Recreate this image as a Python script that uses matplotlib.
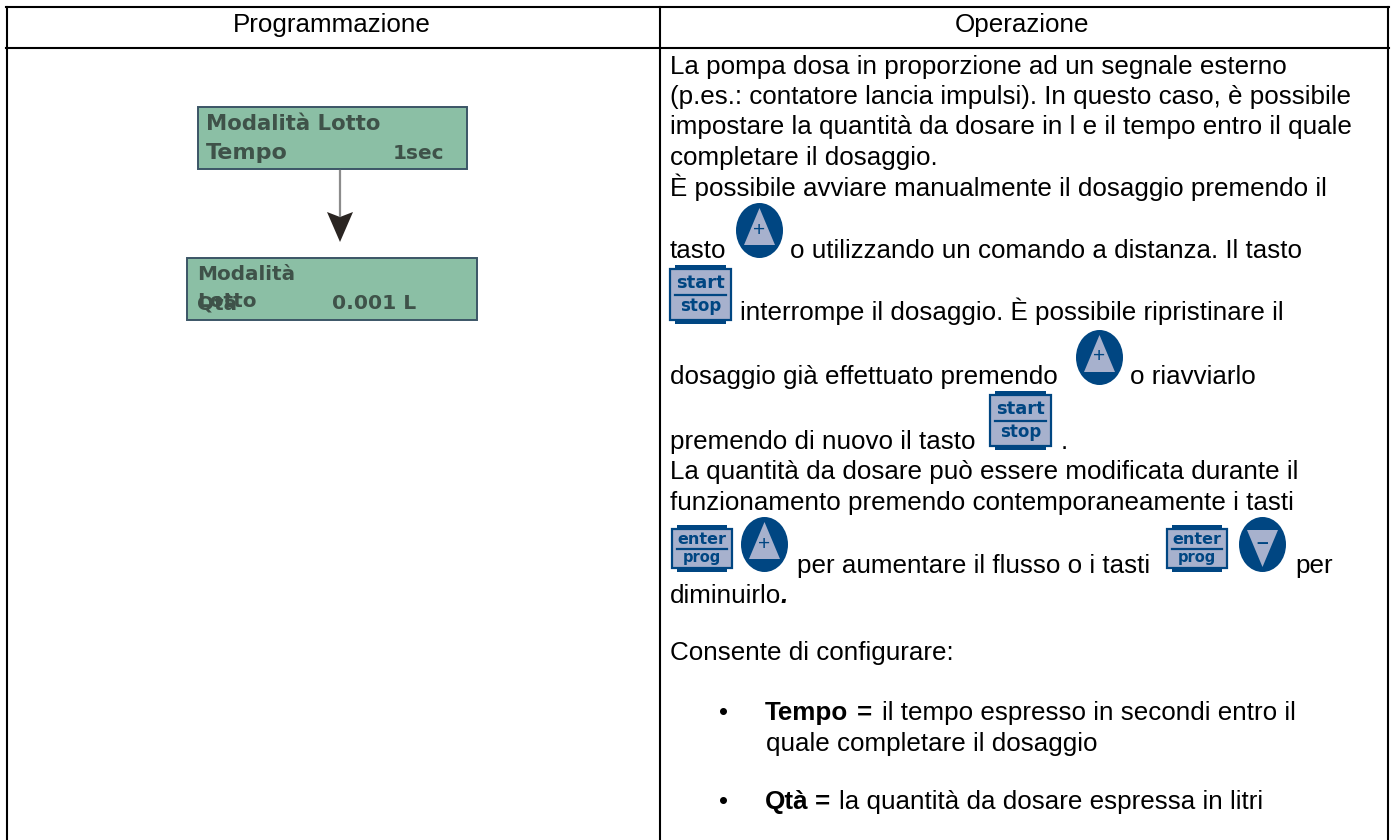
import matplotlib
matplotlib.use('Agg')
import matplotlib.pyplot as plt
from matplotlib.patches import Rectangle, Ellipse, Polygon

plt.rcParams['font.family'] = ['Liberation Sans', 'DejaVu Sans']

# table text
headers = ['Programmazione', 'Operazione']
text_lines = [
    'La pompa dosa in proporzione ad un segnale esterno',
    '(p.es.: contatore lancia impulsi). In questo caso, è possibile',
    'impostare la quantità da dosare in l e il tempo entro il quale',
    'completare il dosaggio.',
    'È possibile avviare manualmente il dosaggio premendo il',
    'tasto',
    'o utilizzando un comando a distanza. Il tasto',
    'interrompe il dosaggio. È possibile ripristinare il',
    'dosaggio già effettuato premendo',
    'o riavviarlo',
    'premendo di nuovo il tasto',
    '.',
    'La quantità da dosare può essere modificata durante il',
    'funzionamento premendo contemporaneamente i tasti',
    'per aumentare il flusso o i tasti',
    'per',
    'diminuirlo',
    'Consente di configurare:',
    'il tempo espresso in secondi entro il',
    'quale completare il dosaggio',
    'la quantità da dosare espressa in litri',
]
text_x = [670, 670, 670, 670, 670, 670, 790, 740, 670, 1130, 670, 1061, 670, 670, 797, 1295, 670, 670, 882, 766, 839]
text_y = [74, 104, 134, 165, 196, 258, 258, 320, 384, 384, 449, 449, 479, 510, 573, 573, 603, 660, 720, 751, 809]

NAVY = '#004682'
KEY = '#a7b1cd'
LCD = '#8bbfa5'
LCD_EDGE = '#3b5566'
LCD_TEXT = '#3f5249'
FS = 18.7

fig = plt.figure(figsize=(13.93, 8.40), dpi=100)
ax = fig.add_axes([0, 0, 1, 1])
ax.set_xlim(0, 1393)
ax.set_ylim(840, 0)
ax.axis('off')


def key(x, y, top, bottom, w=63, h=59, fs=13):
    # square key with the thicker top and bottom bars
    ax.add_patch(Rectangle((x + 6, y), w - 12, h, fc=NAVY, ec='none'))
    ax.add_patch(Rectangle((x + 1, y + 4), w - 2, h - 8, fc=KEY, ec=NAVY, lw=1.6))
    ax.plot([x + 6, x + w - 6], [y + h * 0.5, y + h * 0.5], color=NAVY, lw=1.6)
    ax.text(x + w / 2, y + h * 0.3, top, color=NAVY, fontsize=fs, fontweight='bold',
            family='DejaVu Sans', ha='center', va='center')
    ax.text(x + w / 2, y + h * 0.69, bottom, color=NAVY, fontsize=fs - 1, fontweight='bold',
            family='DejaVu Sans', ha='center', va='center')


def button(x, y, sign, up=True, w=47, h=55):
    ax.add_patch(Ellipse((x + w / 2, y + h / 2), w, h, fc=NAVY, ec='none'))
    if up:
        pts = [(x + w / 2, y + 5), (x + w - 8, y + h - 13), (x + 8, y + h - 13)]
        ax.text(x + w / 2, y + 27, sign, color=NAVY, fontsize=15, ha='center', va='center')
    else:
        pts = [(x + w / 2, y + h - 5), (x + w - 8, y + 13), (x + 8, y + 13)]
        ax.text(x + w / 2, y + 26, sign, color=NAVY, fontsize=15, fontweight='bold',
                ha='center', va='center')
    ax.add_patch(Polygon(pts, fc=KEY, ec='none', zorder=1.5))


def lcd_text(x, y, s, fs, ha='left'):
    ax.text(x, y, s, color=LCD_TEXT, fontsize=fs, family='DejaVu Sans',
            fontweight='bold', ha=ha, va='baseline')


# table grid, no line at the bottom
ax.plot([6, 1389], [7, 7], color='black', lw=1.5)
ax.plot([6, 1389], [48, 48], color='black', lw=1.5)
for gx in [7, 660, 1388]:
    ax.plot([gx, gx], [7, 840], color='black', lw=1.5)

# header row
ax.text(233, 32, headers[0], fontsize=FS, va='baseline')
ax.text(955, 32, headers[1], fontsize=FS, va='baseline')

# displays and arrow
ax.add_patch(Rectangle((198, 107), 269, 62, fc=LCD, ec=LCD_EDGE, lw=1.4))
lcd_text(206, 130, 'Modalità Lotto', 15.3)
lcd_text(206, 159, 'Tempo', 16)
lcd_text(444, 159, '1sec', 14.4, ha='right')
ax.plot([340, 340], [171, 216], color='#8c8c8c', lw=1.6)
ax.add_patch(Polygon([(327, 212), (340, 217), (353, 212), (340, 242)], fc='#2a2522', ec='none'))
ax.add_patch(Rectangle((187, 258), 290, 62, fc=LCD, ec=LCD_EDGE, lw=1.4))
lcd_text(197, 280, 'Modalità', 14.4)
lcd_text(197, 307, 'Lotto', 14.4)
lcd_text(197, 310, 'Qtà', 14.4)
lcd_text(416, 309, '0.001 L', 14.6, ha='right')

# body text
for s, x, y in zip(text_lines, text_x, text_y):
    ax.text(x, y, s, fontsize=FS, va='baseline')
ax.text(780, 603, '.', fontsize=FS, fontweight='bold', style='italic', va='baseline')

# bullets
for by, label, eq_x in [(720, 'Tempo', 857), (809, 'Qtà', 815)]:
    ax.text(719, by, '•', fontsize=FS, va='baseline')
    ax.text(765, by, label, fontsize=FS, fontweight='bold', va='baseline')
    ax.text(eq_x, by, '=', fontsize=FS, fontweight='bold', va='baseline')

# key icons
button(736, 203, '+')
key(669, 265, 'start', 'stop')
button(1076, 330, '+')
key(989, 391, 'start', 'stop')
key(671, 525, 'enter', 'prog', w=62, h=47, fs=11.5)
button(741, 517, '+')
key(1166, 525, 'enter', 'prog', w=62, h=47, fs=11.5)
button(1239, 517, '–', up=False)

fig.savefig('out.png', dpi=100)
